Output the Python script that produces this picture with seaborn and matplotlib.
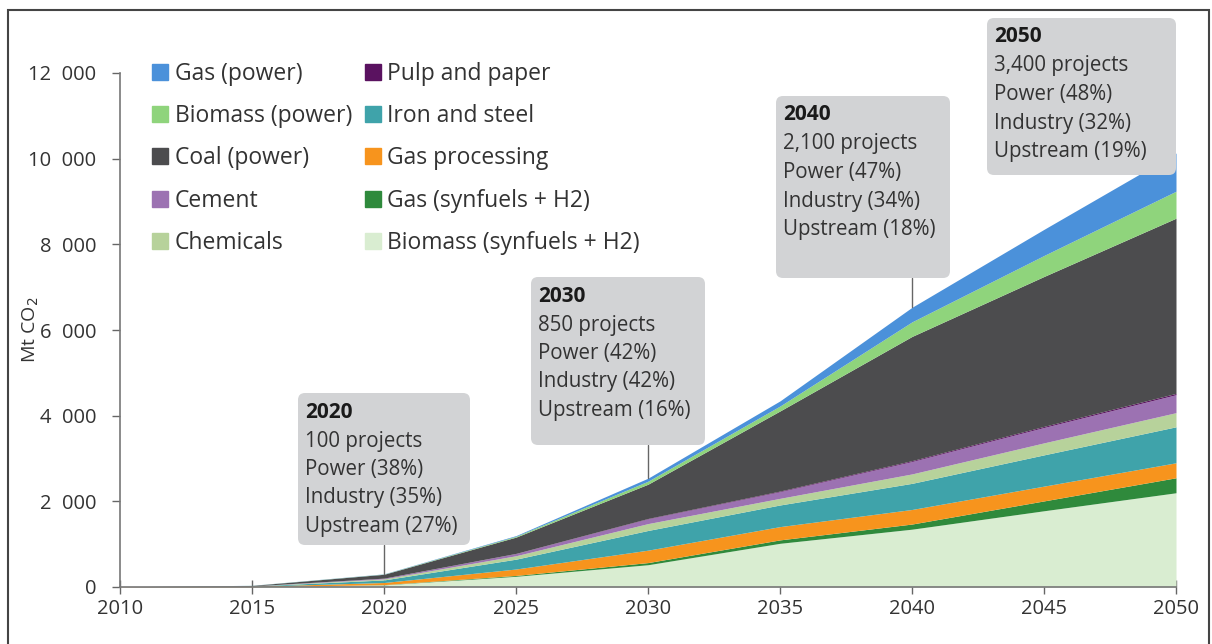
import numpy as np
import pandas as pd
import matplotlib
matplotlib.use("Agg")
import matplotlib.pyplot as plt
import matplotlib.patches as mpatches
from matplotlib.transforms import IdentityTransform
import seaborn as sns

# data (Mt CO2, stacked bottom -> top)
years = [2010, 2015, 2020, 2025, 2030, 2035, 2040, 2045, 2050]
biomass_syn = [0, 5, 50, 250, 520, 1020, 1350, 1780, 2200]
gas_syn = [0, 1, 5, 20, 50, 80, 120, 230, 350]
gas_processing = [5, 10, 50, 150, 290, 310, 340, 345, 350]
iron_steel = [0, 5, 60, 230, 460, 505, 610, 730, 840]
chemicals = [0, 3, 25, 80, 160, 155, 220, 280, 330]
cement = [0, 2, 15, 50, 110, 155, 290, 360, 420]
pulp_paper = [0, 0, 2, 5, 10, 15, 20, 25, 30]
coal_power = [0, 10, 90, 380, 800, 1870, 2900, 3500, 4090]
biomass_power = [0, 2, 5, 20, 70, 115, 340, 490, 630]
gas_power = [0, 2, 5, 15, 70, 120, 340, 610, 890]

labels = ['Biomass (synfuels + H2)', 'Gas (synfuels + H2)', 'Gas processing',
          'Iron and steel', 'Chemicals', 'Cement', 'Pulp and paper',
          'Coal (power)', 'Biomass (power)', 'Gas (power)']
colors = ['#d9edd1', '#2f8a3c', '#f7941d', '#3fa3aa', '#b7d29b', '#9c72b2',
          '#5a1260', '#4c4c4e', '#8fd47c', '#4b91da']

# annotation boxes
box_years = [2020, 2030, 2040, 2050]
box_lines = [
    ['100 projects', 'Power (38%)', 'Industry (35%)', 'Upstream (27%)'],
    ['850 projects', 'Power (42%)', 'Industry (42%)', 'Upstream (16%)'],
    ['2,100 projects', 'Power (47%)', 'Industry (34%)', 'Upstream (18%)'],
    ['3,400 projects', 'Power (48%)', 'Industry (32%)', 'Upstream (19%)'],
]

df = pd.DataFrame({'year': years, 'Biomass (synfuels + H2)': biomass_syn,
                   'Gas (synfuels + H2)': gas_syn, 'Gas processing': gas_processing,
                   'Iron and steel': iron_steel, 'Chemicals': chemicals, 'Cement': cement,
                   'Pulp and paper': pulp_paper, 'Coal (power)': coal_power,
                   'Biomass (power)': biomass_power, 'Gas (power)': gas_power})

sns.set_theme(style="white")
plt.rcParams['font.family'] = ['Open Sans', 'DejaVu Sans']
text_col = '#333333'

W, H = 1212, 644
fig = plt.figure(figsize=(W / 100, H / 100), dpi=100)
ax = fig.add_axes([120 / W, 57 / H, 1056 / W, 514 / H])

ax.stackplot(df['year'], *[df[l] for l in labels], colors=colors, linewidth=0)

ax.set_xlim(2010, 2050)
ax.set_ylim(0, 12000)
ax.set_xticks(range(2010, 2051, 5))
ax.set_yticks(range(0, 12001, 2000))
ax.set_yticklabels([f'{v:,}'.replace(',', '  ') for v in range(0, 12001, 2000)])
ax.tick_params(axis='both', labelsize=14.5, colors='#666666', labelcolor=text_col)
ax.tick_params(axis='x', direction='inout', length=10, width=1, pad=4, bottom=True)
ax.tick_params(axis='y', direction='out', length=6, width=1, pad=11, left=True)
for s in ['top', 'right']:
    ax.spines[s].set_visible(False)
for s in ['left', 'bottom']:
    ax.spines[s].set_color('#777777')
    ax.spines[s].set_linewidth(1.2)
ax.set_ylabel('Mt CO$_2$', fontsize=14, color=text_col)
ax.yaxis.set_label_coords(-0.075, 0.5)

# legend in the reference order (two columns)
order = ['Gas (power)', 'Biomass (power)', 'Coal (power)', 'Cement', 'Chemicals',
         'Pulp and paper', 'Iron and steel', 'Gas processing', 'Gas (synfuels + H2)',
         'Biomass (synfuels + H2)']
handles = [mpatches.Patch(color=colors[labels.index(l)], label=l) for l in order]
ax.legend(handles=handles, ncol=2, loc='upper left', bbox_to_anchor=(0.030, 1.022),
          frameon=False, fontsize=16.5, handlelength=0.7, handleheight=0.7,
          handletextpad=0.3, columnspacing=0.55, labelspacing=0.8, borderpad=0,
          borderaxespad=0, labelcolor=text_col)

# grey call-out boxes, placed in pixels (left, top, right, bottom)
box_px = {2020: (298, 393, 470, 545), 2030: (531, 277, 705, 445),
          2040: (776, 96, 950, 278), 2050: (987, 18, 1176, 175)}
pix = IdentityTransform()
totals = df.drop(columns='year').sum(axis=1).values
for yr, lines in zip(box_years, box_lines):
    l, t, r, b = box_px[yr]
    rect = mpatches.FancyBboxPatch((l, H - b), r - l, b - t,
                                   boxstyle='round,pad=0,rounding_size=7',
                                   transform=pix, facecolor='#d2d3d5',
                                   edgecolor='none', zorder=5, clip_on=False)
    ax.add_patch(rect)
    ax.text(l + 7, H - (t + 19), str(yr), transform=pix, fontsize=15,
            fontweight='bold', color='#1a1a1a', va='center', ha='left', zorder=6)
    for i, s in enumerate(lines):
        ax.text(l + 7, H - (t + 48 + 28.5 * i), s, transform=pix, fontsize=14.8,
                color=text_col, va='center', ha='left', zorder=6)
    if yr != 2050:
        tot = float(np.interp(yr, years, totals))
        y_box = (587 - b) / 514 * 12000
        ax.plot([yr, yr], [tot, y_box], color='#666666', lw=1, zorder=3)

# outer frame of the figure
fig.patches.append(mpatches.Rectangle((8 / W, -0.05), 1201 / W, 1.05 - 10 / H,
                                      transform=fig.transFigure, fill=False,
                                      edgecolor='#444444', linewidth=1.5))

plt.savefig('out.png', dpi=100)
